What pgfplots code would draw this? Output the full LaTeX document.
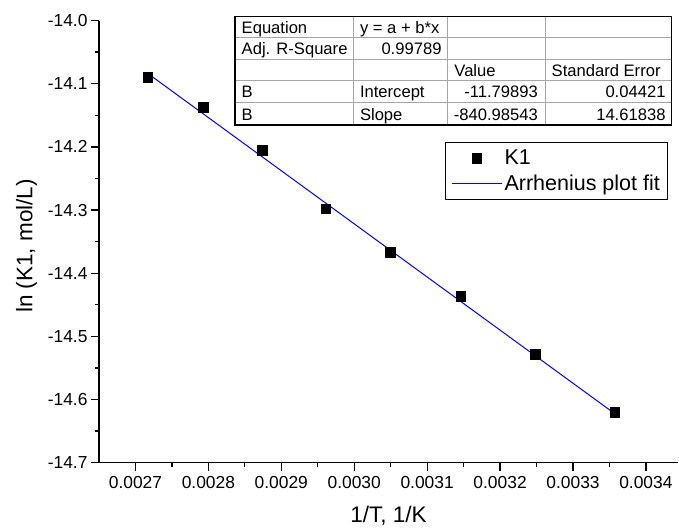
\documentclass[border=0pt]{standalone}
\usepackage{fontspec}
\setmainfont{Liberation Sans}
\usepackage{pgfplots}
\usepackage{pgfplotstable}
\pgfplotsset{compat=1.18}

% wider legend samples
\pgfplotsset{
  long line legend/.style={legend image code/.code={\draw[##1, draw=blue, line width=1pt] (0pt,0pt) -- (50pt,0pt);}},
  long marks legend/.style={legend image code/.code={\draw[mark repeat=2,mark phase=2,##1]
    plot coordinates {(0pt,0pt) (25pt,0pt) (50pt,0pt)};}},
}

% ln K1 against 1/T
\pgfplotstableread{
invT      lnK
0.002717  -14.090
0.002793  -14.137
0.002874  -14.205
0.002961  -14.298
0.003049  -14.367
0.003146  -14.436
0.003248  -14.528
0.003357  -14.620
}\kone

\begin{document}
\begin{tikzpicture}[x=1pt,y=1pt]
% page frame
\path (0,0) rectangle (679,-531);
\begin{axis}[
  at={(99pt,-462.7pt)}, anchor=south west,
  scale only axis, width=579pt, height=442.2pt,
  xmin=0.00265, xmax=0.003444, ymin=-14.7, ymax=-14.0,
  axis lines*=left,
  axis line style={line width=1.3pt,-},
  xtick={0.0027,0.0028,0.0029,0.0030,0.0031,0.0032,0.0033,0.0034},
  xticklabels={0.0027,0.0028,0.0029,0.0030,0.0031,0.0032,0.0033,0.0034},
  ytick={-14.7,-14.6,-14.5,-14.4,-14.3,-14.2,-14.1,-14.0},
  yticklabels={-14.7,-14.6,-14.5,-14.4,-14.3,-14.2,-14.1,-14.0},
  scaled x ticks=false, scaled y ticks=false,
  minor x tick num=1, minor y tick num=1,
  tick align=outside,
  major tick length=8pt, minor tick length=4.5pt,
  tick style={line width=1.3pt,black},
  ticklabel style={font=\fontsize{17.4}{20}\selectfont},
  xticklabel style={yshift=-2.5pt},
  xlabel={1/T, 1/K}, ylabel={ln (K1, mol/L)},
  label style={font=\fontsize{22.5}{26}\selectfont},
  xlabel style={at={(axis description cs:0.5,0)}, anchor=base, yshift=-59.5pt},
  ylabel style={at={(axis description cs:-0.1149,0.49)}, anchor=base},
  clip=false,
  legend style={at={(0.9832,0.7246)}, anchor=north east, draw=black,
    line width=0.8pt, font=\fontsize{21.5}{24}\selectfont,
    inner xsep=6pt, inner ysep=5.4pt, row sep=4.6pt, cells={anchor=west}},
]
\addplot[only marks, mark=square*, mark size=4.8pt, black, long marks legend]
  table[x=invT, y=lnK] {\kone};
\addlegendentry{K1}
% linear fit: y = -11.79893 - 840.98543 x
\addplot[color=blue, line width=1pt, long line legend]
  coordinates {(0.002717,-14.08389) (0.003357,-14.62212)};
\addlegendentry{Arrhenius plot fit}
\end{axis}

% fit report table
\def\cA{235}\def\cB{353.3}\def\cC{447.7}\def\cD{545}\def\cE{671.7}
\fill[white] (\cA,-16.7) rectangle (\cE,-125);
\draw[gray!70, line width=0.8pt]
  (\cA,-37.7) -- (\cE,-37.7) (\cA,-59) -- (\cE,-59)
  (\cA,-80.7) -- (\cE,-80.7) (\cA,-102.3) -- (\cE,-102.3)
  (\cB,-16.7) -- (\cB,-125) (\cC,-16.7) -- (\cC,-125) (\cD,-16.7) -- (\cD,-125);
\draw[black, line width=1.2pt] (\cA,-16.7) rectangle (\cE,-125);
\begin{scope}[every node/.style={inner sep=0pt, font=\fontsize{16.6}{19}\selectfont}]
\node[anchor=base west] at (\cA+6.5,-33.2) {Equation};
\node[anchor=base west] at (\cB+6.5,-33.2) {y = a + b*x};
\node[anchor=base west] at (\cA+6.5,-54.5) {Adj. R-Square};
\node[anchor=base east] at (\cC-6,-54.5) {0.99789};
\node[anchor=base west] at (\cC+6.5,-76.2) {Value};
\node[anchor=base west] at (\cD+6.5,-76.2) {Standard Error};
\node[anchor=base west] at (\cA+6.5,-97.8) {B};
\node[anchor=base west] at (\cB+6.5,-97.8) {Intercept};
\node[anchor=base east] at (\cD-7,-97.8) {-11.79893};
\node[anchor=base east] at (\cE-6,-97.8) {0.04421};
\node[anchor=base west] at (\cA+6.5,-120.5) {B};
\node[anchor=base west] at (\cB+6.5,-120.5) {Slope};
\node[anchor=base east] at (\cD-7,-120.5) {-840.98543};
\node[anchor=base east] at (\cE-6,-120.5) {14.61838};
\end{scope}
\end{tikzpicture}
\end{document}
